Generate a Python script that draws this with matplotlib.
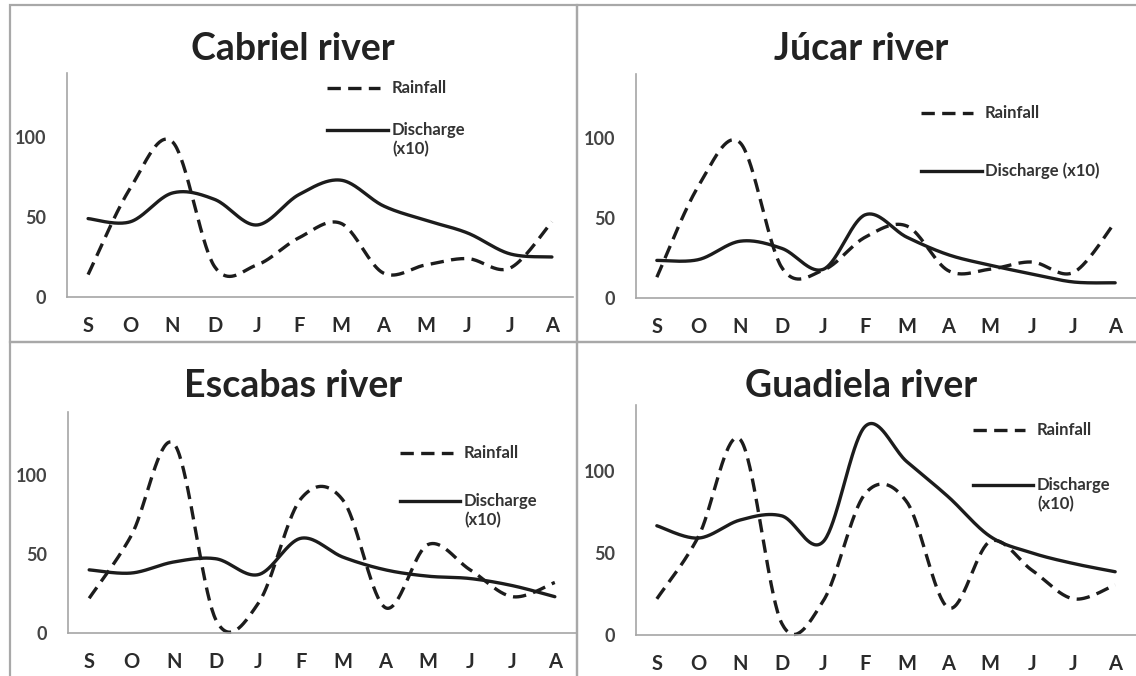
import numpy as np
import matplotlib
matplotlib.use("Agg")
import matplotlib.pyplot as plt
from matplotlib.lines import Line2D
from matplotlib.patches import Rectangle

plt.rcParams['font.family'] = ['Lato', 'DejaVu Sans']

# ---- data -------------------------------------------------------------
months = ['S', 'O', 'N', 'D', 'J', 'F', 'M', 'A', 'M', 'J', 'J', 'A']
y_ticks = [0, 50, 100]

cabriel_rain = [14, 68, 97, 19, 20, 37, 46, 15, 20, 24, 18, 47]
cabriel_discharge = [49, 47, 65, 61, 45, 64, 73, 57, 48, 40, 27, 25]

jucar_rain = [13, 70, 97, 19, 17.5, 38, 45, 17, 18, 22.5, 16, 47.5]
jucar_discharge = [23.5, 24, 35.5, 31, 18, 52, 38, 27, 20.5, 15, 10, 9.5]

escabas_rain = [22, 62, 120, 8, 19, 85, 84, 16, 56, 40, 23, 32]
escabas_discharge = [40, 38, 45, 47, 37, 60, 48, 40, 36, 34.5, 30, 23]

guadiela_rain = [22, 60, 119, 7, 21, 86, 81, 16.5, 57, 39.5, 22, 30.5]
guadiela_discharge = [66.5, 59, 70, 72.5, 57, 127, 105.5, 84, 60, 50, 43.5, 38.5]

titles = ['Cabriel river', 'Júcar river', 'Escabas river', 'Guadiela river']

# ---- layout (pixel geometry of the 1136 x 676 canvas) --------------------
W, H = 1136, 676
INK = '#1c1c1c'
FRAME = '#a8a8a8'
AXIS = '#a6a6a6'


def fig_rect(left, top, right, bottom):
    return [left / W, 1 - bottom / H, (right - left) / W, (bottom - top) / H]


def fx(x):
    return x / W


def fy(y):
    return 1 - y / H


def smooth(values, n=40):
    """Cubic Bezier smoothing through every point (Catmull-Rom control points)."""
    y = np.asarray(values, dtype=float)
    x = np.arange(len(y), dtype=float)
    P = np.column_stack([x, y])
    Pp = np.vstack([P[0], P, P[-1]])
    t = np.linspace(0, 1, n)[:, None]
    parts = []
    for i in range(len(P) - 1):
        p0, p1, p2, p3 = Pp[i], Pp[i + 1], Pp[i + 2], Pp[i + 3]
        c1 = p1 + (p2 - p0) / 6.0
        c2 = p2 - (p3 - p1) / 6.0
        seg = ((1 - t) ** 3) * p1 + 3 * ((1 - t) ** 2) * t * c1 \
            + 3 * (1 - t) * (t ** 2) * c2 + (t ** 3) * p2
        parts.append(seg if i == 0 else seg[1:])
    return np.vstack(parts)


fig = plt.figure(figsize=(W / 100, H / 100), dpi=100)
fig.patch.set_facecolor('white')

panels = [
    dict(title=titles[0], rain=cabriel_rain, dis=cabriel_discharge,
         frame=(10, 5, 577, 342), axes=(67, 73, 573, 297), title_xy=(293, 60),
         leg=dict(x0=327, x1r=380, x1d=388, yr=88, yd=130, tx=392,
                  dis_label='Discharge\n(x10)')),
    dict(title=titles[1], rain=jucar_rain, dis=jucar_discharge,
         frame=(577, 5, 1142, 342), axes=(636, 74, 1136, 298), title_xy=(861, 60),
         leg=dict(x0=921, x1r=973, x1d=982, yr=113, yd=171, tx=985,
                  dis_label='Discharge (x10)')),
    dict(title=titles[2], rain=escabas_rain, dis=escabas_discharge,
         frame=(10, 342, 577, 682), axes=(68, 412, 576, 633), title_xy=(293, 397),
         leg=dict(x0=400, x1r=453, x1d=460, yr=453, yd=501, tx=464,
                  dis_label='Discharge\n(x10)')),
    dict(title=titles[3], rain=guadiela_rain, dis=guadiela_discharge,
         frame=(577, 342, 1142, 682), axes=(636, 405, 1136, 635), title_xy=(861, 397),
         leg=dict(x0=973, x1r=1025, x1d=1033, yr=430, yd=485, tx=1037,
                  dis_label='Discharge\n(x10)')),
]

DASHES = (4.0, 2.2)
LW = 2.4

for p in panels:
    l, t, r, b = p['frame']
    fig.add_artist(Rectangle((fx(l), fy(b)), fx(r) - fx(l), fy(t) - fy(b),
                             transform=fig.transFigure, fill=False,
                             edgecolor=FRAME, linewidth=1.6, zorder=0))

    ax = fig.add_axes(fig_rect(*p['axes']))
    ax.set_facecolor('none')
    x = np.arange(len(months))

    rs = smooth(p['rain'])
    ds = smooth(p['dis'])
    ax.plot(rs[:, 0], rs[:, 1], color=INK, lw=LW, dashes=DASHES,
            dash_capstyle='butt', clip_on=False)
    ax.plot(ds[:, 0], ds[:, 1], color=INK, lw=LW,
            solid_capstyle='round', clip_on=False)

    ax.set_xlim(-0.5, len(months) - 0.5)
    ax.set_ylim(0, 140)
    ax.set_xticks(x)
    ax.set_xticklabels(months, fontsize=14.5, fontweight='bold', color='#2b2b2b')
    ax.set_yticks(y_ticks)
    ax.set_yticklabels([str(v) for v in y_ticks], fontsize=13,
                       fontweight='bold', color='#444444')
    ax.tick_params(axis='x', length=0, pad=14)
    ax.tick_params(axis='y', length=0, pad=15)
    for s in ('top', 'right'):
        ax.spines[s].set_visible(False)
    for s in ('left', 'bottom'):
        ax.spines[s].set_color(AXIS)
        ax.spines[s].set_linewidth(1.2)

    tx, ty = p['title_xy']
    fig.text(fx(tx), fy(ty), p['title'], ha='center', va='baseline',
             fontsize=27, fontweight='bold', color='#222222')

    lg = p['leg']
    fig.add_artist(Line2D([fx(lg['x0']), fx(lg['x1r'])], [fy(lg['yr'])] * 2,
                          transform=fig.transFigure, color=INK, lw=LW,
                          dashes=DASHES))
    fig.add_artist(Line2D([fx(lg['x0']), fx(lg['x1d'])], [fy(lg['yd'])] * 2,
                          transform=fig.transFigure, color=INK, lw=LW))
    fig.text(fx(lg['tx']), fy(lg['yr']), 'Rainfall', ha='left', va='center',
             fontsize=12, fontweight='bold', color='#333333')
    fig.text(fx(lg['tx']), fy(lg['yd']) + 0.012, lg['dis_label'], ha='left',
             va='top', fontsize=12, fontweight='bold', color='#333333',
             linespacing=1.2)

fig.savefig('out.png', dpi=100, facecolor='white')
